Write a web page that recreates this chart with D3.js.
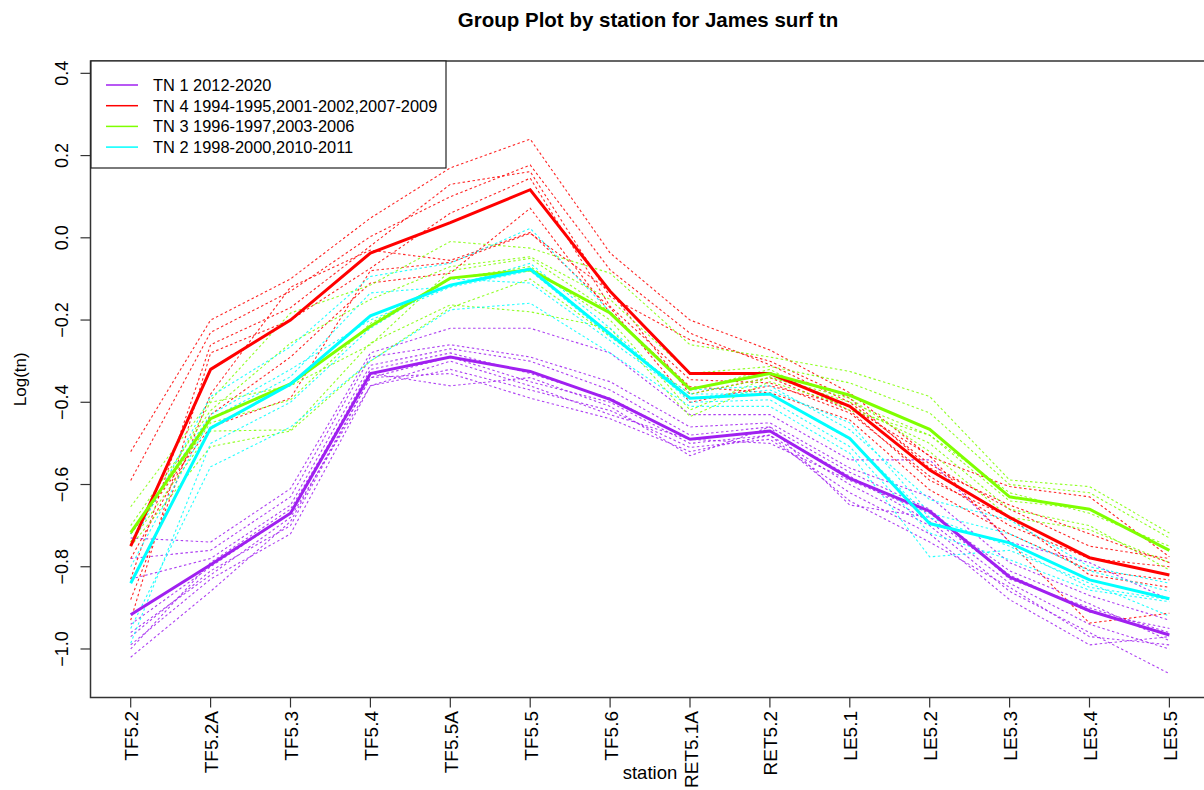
<!DOCTYPE html>
<html>
<head>
<meta charset="utf-8">
<script src="https://cdn.jsdelivr.net/npm/d3@7"></script>
<style>
  body { margin: 0; background: #fff; }
  svg { display: block; font-family: "Liberation Sans", Arial, sans-serif; }
</style>
</head>
<body>
<svg id="chart" width="1204" height="790"></svg>
<script>
// stations along the x axis
const stations = ["TF5.2", "TF5.2A", "TF5.3", "TF5.4", "TF5.5A", "TF5.5", "TF5.6",
  "RET5.1A", "RET5.2", "LE5.1", "LE5.2", "LE5.3", "LE5.4", "LE5.5"];

const yTicks = [-1.0, -0.8, -0.6, -0.4, -0.2, 0.0, 0.2, 0.4];

// group means (thick lines)
const meanTN1 = [-0.917, -0.795, -0.67, -0.33, -0.29, -0.325, -0.393, -0.49, -0.47, -0.585, -0.665, -0.825, -0.907, -0.966];
const meanTN4 = [-0.75, -0.32, -0.2, -0.037, 0.037, 0.117, -0.13, -0.33, -0.33, -0.41, -0.565, -0.68, -0.778, -0.82];
const meanTN3 = [-0.717, -0.44, -0.355, -0.215, -0.098, -0.078, -0.183, -0.368, -0.33, -0.383, -0.466, -0.63, -0.66, -0.76];
const meanTN2 = [-0.84, -0.463, -0.356, -0.19, -0.115, -0.076, -0.234, -0.39, -0.38, -0.488, -0.695, -0.742, -0.832, -0.878];

// single years (dashed lines)
const yearsTN1 = [
  [-0.73, -0.74, -0.61, -0.28, -0.22, -0.22, -0.28, -0.43, -0.43, -0.54, -0.54, -0.74, -0.79, -0.88],
  [-0.78, -0.76, -0.63, -0.29, -0.26, -0.29, -0.35, -0.46, -0.45, -0.56, -0.63, -0.79, -0.87, -0.93],
  [-0.83, -0.78, -0.65, -0.31, -0.27, -0.30, -0.37, -0.48, -0.46, -0.57, -0.66, -0.83, -0.90, -0.96],
  [-0.94, -0.80, -0.67, -0.32, -0.28, -0.33, -0.39, -0.49, -0.47, -0.58, -0.69, -0.84, -0.94, -1.00],
  [-0.97, -0.81, -0.70, -0.34, -0.29, -0.35, -0.40, -0.50, -0.48, -0.60, -0.70, -0.86, -0.96, -1.06],
  [-0.99, -0.83, -0.72, -0.36, -0.32, -0.37, -0.42, -0.51, -0.49, -0.62, -0.72, -0.88, -0.99, -0.97],
  [-1.02, -0.86, -0.69, -0.34, -0.33, -0.39, -0.44, -0.52, -0.48, -0.64, -0.74, -0.85, -0.97, -0.99],
  [-1.00, -0.79, -0.66, -0.33, -0.36, -0.34, -0.41, -0.53, -0.46, -0.65, -0.68, -0.82, -0.91, -0.95],
  [-0.96, -0.82, -0.68, -0.36, -0.30, -0.36, -0.43, -0.49, -0.50, -0.59, -0.67, -0.81, -0.89, -0.98]
];
const yearsTN4 = [
  [-0.52, -0.20, -0.10, 0.048, 0.17, 0.24, -0.037, -0.20, -0.273, -0.377, -0.532, -0.605, -0.63, -0.776],
  [-0.59, -0.23, -0.13, 0.003, 0.10, 0.177, -0.078, -0.232, -0.309, -0.40, -0.55, -0.66, -0.75, -0.78],
  [-0.83, -0.26, -0.17, -0.02, 0.13, 0.161, -0.143, -0.248, -0.30, -0.39, -0.56, -0.65, -0.72, -0.79],
  [-0.93, -0.28, -0.20, -0.074, 0.06, 0.145, -0.167, -0.345, -0.353, -0.426, -0.58, -0.70, -0.78, -0.80],
  [-0.78, -0.43, -0.29, -0.11, -0.086, 0.072, -0.183, -0.362, -0.377, -0.443, -0.613, -0.72, -0.808, -0.832],
  [-0.72, -0.46, -0.39, -0.08, -0.06, 0.011, -0.13, -0.38, -0.34, -0.42, -0.59, -0.68, -0.82, -0.85],
  [-0.88, -0.38, -0.12, -0.03, -0.055, 0.013, -0.17, -0.40, -0.36, -0.41, -0.53, -0.74, -0.937, -0.913]
];
const yearsTN3 = [
  [-0.654, -0.395, -0.183, -0.115, -0.009, -0.025, -0.086, -0.26, -0.29, -0.325, -0.386, -0.589, -0.605, -0.718],
  [-0.70, -0.42, -0.256, -0.15, -0.07, -0.046, -0.15, -0.33, -0.313, -0.353, -0.426, -0.60, -0.62, -0.73],
  [-0.72, -0.45, -0.394, -0.208, -0.10, -0.07, -0.20, -0.419, -0.338, -0.40, -0.48, -0.64, -0.66, -0.76],
  [-0.74, -0.47, -0.467, -0.256, -0.163, -0.18, -0.22, -0.435, -0.35, -0.41, -0.50, -0.66, -0.70, -0.808],
  [-0.75, -0.508, -0.47, -0.30, -0.17, -0.10, -0.24, -0.38, -0.34, -0.39, -0.52, -0.68, -0.71, -0.79],
  [-0.74, -0.40, -0.36, -0.26, -0.08, -0.05, -0.18, -0.37, -0.32, -0.42, -0.48, -0.62, -0.67, -0.75]
];
const yearsTN2 = [
  [-0.75, -0.386, -0.265, -0.094, -0.062, 0.023, -0.18, -0.37, -0.36, -0.467, -0.637, -0.686, -0.80, -0.84],
  [-0.80, -0.44, -0.338, -0.134, -0.119, -0.062, -0.22, -0.40, -0.394, -0.508, -0.718, -0.783, -0.857, -0.885],
  [-0.95, -0.557, -0.46, -0.30, -0.175, -0.159, -0.28, -0.41, -0.41, -0.524, -0.776, -0.76, -0.84, -0.92],
  [-0.986, -0.50, -0.40, -0.22, -0.10, -0.11, -0.25, -0.39, -0.37, -0.45, -0.67, -0.72, -0.81, -0.86],
  [-0.72, -0.43, -0.32, -0.20, -0.12, -0.08, -0.24, -0.38, -0.38, -0.49, -0.68, -0.75, -0.85, -0.88]
];

const groupNames = ["TN 1 2012-2020", "TN 4 1994-1995,2001-2002,2007-2009",
  "TN 3 1996-1997,2003-2006", "TN 2 1998-2000,2010-2011"];
const groupColors = ["#A020F0", "#FF0000", "#7FFF00", "#00FFFF"];

const groups = [
  { name: groupNames[0], color: groupColors[0], mean: meanTN1, years: yearsTN1 },
  { name: groupNames[1], color: groupColors[1], mean: meanTN4, years: yearsTN4 },
  { name: groupNames[2], color: groupColors[2], mean: meanTN3, years: yearsTN3 },
  { name: groupNames[3], color: groupColors[3], mean: meanTN2, years: yearsTN2 }
];

const svg = d3.select("#chart");
const box = { left: 90.5, right: 1211, top: 61, bottom: 697.5 };

const x = d3.scalePoint().domain(stations).range([130.7, 1169.4]);
const y = d3.scaleLinear().domain([-1.118, 0.430]).range([box.bottom, box.top]);

const line = d3.line()
  .x((d, i) => x(stations[i]))
  .y(d => y(d));

// dashed year lines
groups.forEach(g => {
  svg.append("g").selectAll("path")
    .data(g.years)
    .join("path")
    .attr("d", line)
    .attr("fill", "none")
    .attr("stroke", g.color)
    .attr("stroke-width", 1.1)
    .attr("stroke-dasharray", "2.5,2.5")
    .attr("opacity", 0.85);
});

// thick mean lines
groups.forEach(g => {
  svg.append("path")
    .datum(g.mean)
    .attr("d", line)
    .attr("fill", "none")
    .attr("stroke", g.color)
    .attr("stroke-width", 3)
    .attr("stroke-linejoin", "miter");
});

// plot frame
svg.append("rect")
  .attr("x", box.left).attr("y", box.top)
  .attr("width", box.right - box.left).attr("height", box.bottom - box.top)
  .attr("fill", "none").attr("stroke", "#333").attr("stroke-width", 1.5);

// y axis
const yAxis = svg.append("g");
yAxis.selectAll("line").data(yTicks).join("line")
  .attr("x1", box.left).attr("x2", box.left - 10)
  .attr("y1", d => y(d)).attr("y2", d => y(d))
  .attr("stroke", "#333").attr("stroke-width", 1.2);
yAxis.selectAll("text").data(yTicks).join("text")
  .attr("transform", d => `translate(62,${y(d)}) rotate(-90)`)
  .attr("text-anchor", "middle")
  .attr("dominant-baseline", "central")
  .style("font-size", "18px")
  .text(d => d3.format(".1f")(d));

// x axis
const xAxis = svg.append("g");
xAxis.selectAll("line").data(stations).join("line")
  .attr("x1", d => x(d)).attr("x2", d => x(d))
  .attr("y1", box.bottom).attr("y2", box.bottom + 10)
  .attr("stroke", "#333").attr("stroke-width", 1.2);
xAxis.selectAll("text").data(stations).join("text")
  .attr("transform", d => `translate(${x(d) + 1},711) rotate(-90)`)
  .attr("text-anchor", "end")
  .attr("dominant-baseline", "central")
  .style("font-size", "19px")
  .text(d => d);

// axis titles
svg.append("text")
  .attr("x", 650).attr("y", 779)
  .attr("text-anchor", "middle")
  .style("font-size", "18.5px")
  .text("station");
svg.append("text")
  .attr("transform", `translate(20,${(box.top + box.bottom) / 2}) rotate(-90)`)
  .attr("text-anchor", "middle")
  .attr("dominant-baseline", "central")
  .style("font-size", "17px")
  .text("Log(tn)");

// title
svg.append("text")
  .attr("x", 648).attr("y", 27)
  .attr("text-anchor", "middle")
  .style("font-size", "20.5px")
  .style("font-weight", "bold")
  .text("Group Plot by station for James surf tn");

// legend
const legend = svg.append("g");
legend.append("rect")
  .attr("x", 91).attr("y", 61).attr("width", 355).attr("height", 107)
  .attr("fill", "#fff").attr("stroke", "#222").attr("stroke-width", 1.2);
const items = legend.selectAll("g.item").data(groups).join("g")
  .attr("class", "item")
  .attr("transform", (d, i) => `translate(0,${85 + i * 20.7})`);
items.append("line")
  .attr("x1", 106).attr("x2", 138)
  .attr("stroke", d => d.color).attr("stroke-width", 1.5);
items.append("text")
  .attr("x", 153)
  .attr("dominant-baseline", "central")
  .style("font-size", "16.4px")
  .text(d => d.name);
</script>
</body>
</html>
